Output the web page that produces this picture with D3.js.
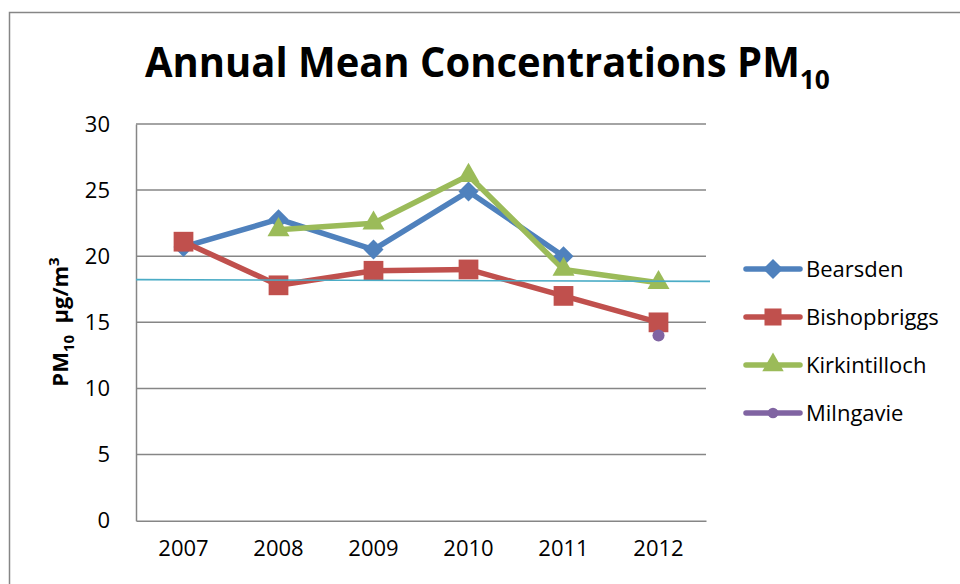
<!DOCTYPE html>
<html>
<head>
<meta charset="utf-8">
<script src="https://cdn.jsdelivr.net/npm/d3@7/dist/d3.min.js"></script>
<style>
  html, body { margin: 0; padding: 0; background: #fff; }
  svg { display: block; font-family: "Open Sans", sans-serif; }
</style>
</head>
<body>
<svg id="chart" width="960" height="584"></svg>
<script>
// ---- data ----
const years = ["2007", "2008", "2009", "2010", "2011", "2012"];
const bearsden      = [20.7, 22.8, 20.5, 24.9, 20.0, null];
const bishopbriggs  = [21.1, 17.8, 18.9, 19.0, 17.0, 15.0];
const kirkintilloch = [null, 22.0, 22.5, 26.1, 19.0, 18.0];
const milngavie     = [null, null, null, null, null, 14.0];
const seriesNames   = ["Bearsden", "Bishopbriggs", "Kirkintilloch", "Milngavie"];
const yTicks        = [0, 5, 10, 15, 20, 25, 30];
const objectiveLine = [18.23, 18.1]; // thin reference line (start, end)

const seriesValues = [bearsden, bishopbriggs, kirkintilloch, milngavie];
const colors  = ["#4F81BD", "#C0504D", "#9BBB59", "#8064A2"];
// diamond = square rotated 45deg
const symbols = [d3.symbolSquare, d3.symbolSquare, d3.symbolTriangle, d3.symbolCircle];
const rotate  = [45, 0, 0, 0];
const symSize = [200, 390, 210, 115];
const legSize = [200, 290, 200, 90];

const svg = d3.select("#chart");

// chart frame (partially visible)
svg.append("rect")
  .attr("x", 9.5).attr("y", 12.5)
  .attr("width", 1200).attr("height", 1000)
  .attr("fill", "#fff").attr("stroke", "#868686").attr("stroke-width", 1.5);

const plot = { left: 136, right: 706, top: 124, bottom: 520.7 };

const x = d3.scaleBand().domain(years).range([plot.left, plot.right]);
const y = d3.scaleLinear().domain([0, 30]).range([plot.bottom, plot.top]);

// gridlines
svg.append("g").selectAll("line").data(yTicks.filter(d => d > 0)).join("line")
  .attr("x1", plot.left).attr("x2", plot.right)
  .attr("y1", d => y(d)).attr("y2", d => y(d))
  .attr("stroke", "#868686").attr("stroke-width", 1.5);

// y axis
const yAxis = d3.axisLeft(y).tickValues(yTicks).tickSize(0).tickPadding(26);
const gy = svg.append("g").attr("transform", `translate(${plot.left},0)`).call(yAxis);
gy.select(".domain").attr("stroke", "#868686").attr("stroke-width", 1.5);
gy.selectAll("text").attr("font-size", 22).attr("fill", "#000")
  .attr("font-family", "Open Sans, sans-serif");

// x axis
const xAxis = d3.axisBottom(x).tickSize(0).tickPadding(20);
const gx = svg.append("g").attr("transform", `translate(0,${plot.bottom})`).call(xAxis);
gx.select(".domain").attr("stroke", "#868686").attr("stroke-width", 1.5);
gx.selectAll("text").attr("font-size", 22).attr("fill", "#000")
  .attr("font-family", "Open Sans, sans-serif");

// series lines
const line = d3.line()
  .defined(d => d.v !== null)
  .x(d => x(d.year) + x.bandwidth() / 2)
  .y(d => y(d.v));

seriesValues.forEach((vals, i) => {
  const pts = years.map((yr, j) => ({ year: yr, v: vals[j] }));
  svg.append("path").datum(pts)
    .attr("d", line)
    .attr("fill", "none")
    .attr("stroke", colors[i])
    .attr("stroke-width", 5.5)
    .attr("stroke-linejoin", "round");
});
seriesValues.forEach((vals, i) => {
  const pts = years.map((yr, j) => ({ year: yr, v: vals[j] })).filter(d => d.v !== null);
  svg.append("g").selectAll("path").data(pts).join("path")
    .attr("d", d3.symbol().type(symbols[i]).size(symSize[i]))
    .attr("transform", d => `translate(${x(d.year) + x.bandwidth() / 2},${y(d.v)}) rotate(${rotate[i]})`)
    .attr("fill", colors[i]);
});

// thin reference line
svg.append("line")
  .attr("x1", plot.left).attr("x2", plot.right + 4)
  .attr("y1", y(objectiveLine[0])).attr("y2", y(objectiveLine[1]))
  .attr("stroke", "#4BACC6").attr("stroke-width", 1.6);

// legend
const leg = svg.append("g");
seriesNames.forEach((name, i) => {
  const cy = 269 + i * 48;
  leg.append("line").attr("x1", 746).attr("x2", 800).attr("y1", cy).attr("y2", cy)
    .attr("stroke", colors[i]).attr("stroke-width", 5.5).attr("stroke-linecap", "round");
  leg.append("path").attr("d", d3.symbol().type(symbols[i]).size(legSize[i]))
    .attr("transform", `translate(773,${cy}) rotate(${rotate[i]})`).attr("fill", colors[i]);
  leg.append("text").attr("x", 806).attr("y", cy).attr("dy", "0.35em")
    .attr("font-size", 22).attr("fill", "#000").text(name);
});

// title
const tg = svg.append("g");
const title = tg.append("text").attr("x", 0).attr("y", 0)
  .attr("font-size", 41).attr("font-weight", "bold").attr("fill", "#000");
title.append("tspan").text("Annual Mean Concentrations PM");
title.append("tspan").attr("font-size", 27).attr("dy", 12).text("10");
const bb = title.node().getBBox();
const sx = (830 - 145) / bb.width;
tg.attr("transform", `translate(${145 - bb.x * sx},77) scale(${sx},1)`);

// y axis title
const yt = svg.append("text")
  .attr("transform", `translate(68,322) rotate(-90)`)
  .attr("text-anchor", "middle")
  .attr("font-size", 22).attr("font-weight", "bold").attr("fill", "#000");
yt.append("tspan").text("PM");
yt.append("tspan").attr("font-size", 15).attr("dy", 6).text("10");
yt.append("tspan").attr("dy", -6).text("\u00a0\u00a0µg/m");
yt.append("tspan").attr("font-size", 15).attr("dy", -9).text("3");
</script>
</body>
</html>
